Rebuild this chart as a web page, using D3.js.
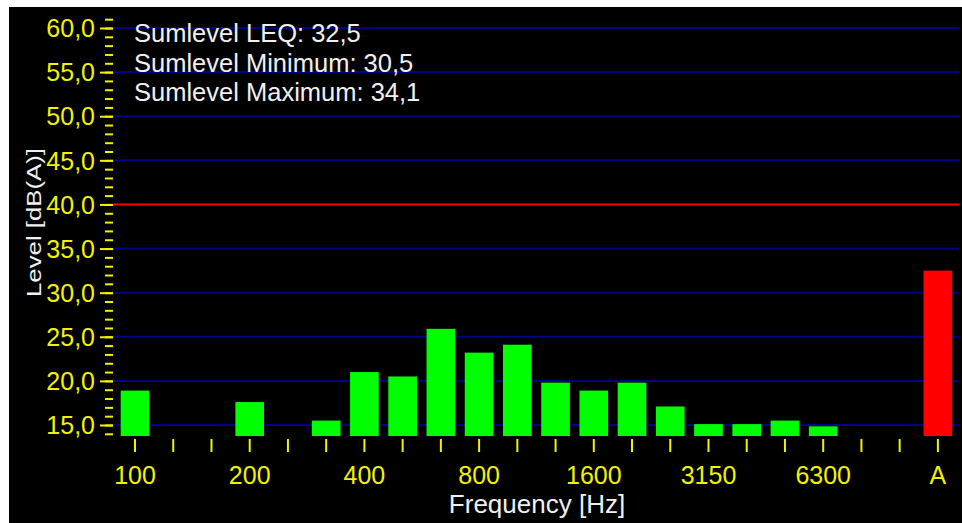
<!DOCTYPE html>
<html>
<head>
<meta charset="utf-8">
<script src="https://cdn.jsdelivr.net/npm/d3@7"></script>
<style>
  html, body { margin: 0; padding: 0; background: #ffffff; }
  svg { display: block; }
  text { font-family: "Liberation Sans", Arial, sans-serif; }
</style>
</head>
<body>
<svg id="chart" width="962" height="523"></svg>
<script>
// ---- data ----
const categories = ["100","125","160","200","250","315","400","500","630","800","1000","1250","1600","2000","2500","3150","4000","5000","6300","8000","10000","A"];
const levels = [18.9, null, null, 17.6, null, 15.5, 21.0, 20.5, 25.9, 23.2, 24.1, 19.8, 18.9, 19.8, 17.1, 15.1, 15.1, 15.5, 14.85, null, null, 32.5];
const xTickLabels = ["100","200","400","800","1600","3150","6300","A"];
const yMajorTicks = [15, 20, 25, 30, 35, 40, 45, 50, 55, 60];
const limitLevel = 40;
const axisFloor = 13.75;
const summaryLines = ["Sumlevel LEQ: 32,5", "Sumlevel Minimum: 30,5", "Sumlevel Maximum: 34,1"];
const xTitle = "Frequency [Hz]";
const yTitle = "Level [dB(A)]";

// ---- layout ----
const svg = d3.select("#chart");
const yellow = "#f2f200";
const textWhite = "#f0f0f0";

svg.append("rect").attr("x", 9).attr("y", 7).attr("width", 953).attr("height", 516).attr("fill", "#000");

const y = d3.scaleLinear().domain([15, 60]).range([425, 28]);
const x = d3.scaleBand().domain(categories).range([115.9, 957]).paddingInner(0.25).paddingOuter(0.125);

const gridX0 = 113, gridX1 = 959;

// grid lines
svg.append("g").selectAll("line").data(yMajorTicks.filter(v => v !== limitLevel)).join("line")
  .attr("x1", gridX0).attr("x2", gridX1)
  .attr("y1", d => y(d)).attr("y2", d => y(d))
  .attr("stroke", "#000088").attr("stroke-width", 2);

// limit line
svg.append("line").attr("x1", gridX0).attr("x2", gridX1)
  .attr("y1", y(limitLevel)).attr("y2", y(limitLevel))
  .attr("stroke", "#ff0000").attr("stroke-width", 2);

// y axis ticks via d3 axis (minor)
const minorTicks = d3.range(14, 62, 1);
const yAxisMinor = d3.axisLeft(y).tickValues(minorTicks).tickSize(8).tickFormat("");
const gMinor = svg.append("g").attr("transform", `translate(${gridX0},0)`).call(yAxisMinor);
gMinor.select(".domain").remove();
gMinor.selectAll(".tick line").attr("stroke", yellow).attr("stroke-width", 2);

const yAxisMajor = d3.axisLeft(y).tickValues(yMajorTicks).tickSize(13).tickPadding(5)
  .tickFormat(d => d3.format(".1f")(d).replace(".", ","));
const gMajor = svg.append("g").attr("transform", `translate(${gridX0},0)`).call(yAxisMajor);
gMajor.select(".domain").remove();
gMajor.selectAll(".tick line").attr("stroke", yellow).attr("stroke-width", 2);
gMajor.selectAll(".tick text").attr("fill", yellow).attr("font-size", "25px")
  .attr("font-family", "'Liberation Sans', Arial, sans-serif").attr("dy", "0.35em");

// bars
svg.append("g").selectAll("rect").data(categories.map((c, i) => ({c, v: levels[i]})).filter(d => d.v !== null)).join("rect")
  .attr("x", d => x(d.c)).attr("width", x.bandwidth())
  .attr("y", d => y(d.v)).attr("height", d => y(axisFloor) - y(d.v))
  .attr("fill", d => d.c === "A" ? "#ff0000" : "#00ff00");

// x axis
const xAxis = d3.axisBottom(x).tickSize(13).tickPadding(14)
  .tickFormat(d => xTickLabels.includes(d) ? d : "");
const gx = svg.append("g").attr("transform", "translate(0,439)").call(xAxis);
gx.select(".domain").remove();
gx.selectAll(".tick line").attr("stroke", yellow).attr("stroke-width", 2);
gx.selectAll(".tick text").attr("fill", yellow).attr("font-size", "25px")
  .attr("font-family", "'Liberation Sans', Arial, sans-serif");

// titles
svg.append("text").attr("x", 537).attr("y", 513).attr("text-anchor", "middle")
  .attr("fill", textWhite).attr("font-size", "26px").text(xTitle);

svg.append("text").attr("transform", "translate(41,222.5) rotate(-90)").attr("text-anchor", "middle")
  .attr("fill", textWhite).attr("font-size", "21px")
  .attr("textLength", 149).attr("lengthAdjust", "spacingAndGlyphs").text(yTitle);

// summary text
svg.append("g").selectAll("text").data(summaryLines).join("text")
  .attr("x", 134).attr("y", (d, i) => 42.3 + i * 29.35)
  .attr("fill", textWhite).attr("font-size", "25.5px").text(d => d);
</script>
</body>
</html>
